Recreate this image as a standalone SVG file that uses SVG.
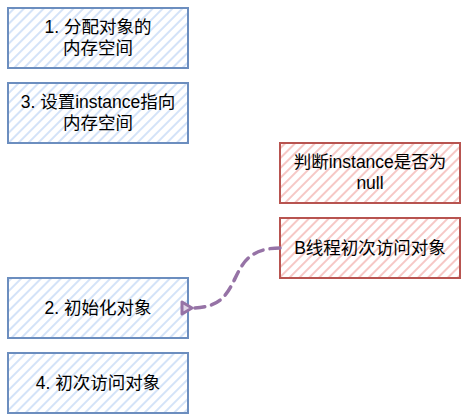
<svg xmlns="http://www.w3.org/2000/svg" width="464" height="420" viewBox="0 0 464 420">
<style>
.t{font-family:"Liberation Sans","Noto Sans CJK SC",sans-serif;font-size:17.5px;fill:#000;text-anchor:middle;dominant-baseline:central}
.b{fill:url(#hb);stroke:#6c8ebf;stroke-width:2}
.r{fill:url(#hr);stroke:#b85450;stroke-width:2}
.c{fill:none;stroke:#9673a6;stroke-width:3.5;stroke-dasharray:10 7;stroke-linecap:round}
</style>
<defs>
<pattern id="hb" patternUnits="userSpaceOnUse" width="7" height="7" patternTransform="rotate(45)">
<rect width="7" height="7" fill="#fff"/>
<line x1="2" y1="0" x2="2" y2="7" stroke="#d4e3f8" stroke-width="2"/>
</pattern>
<pattern id="hr" patternUnits="userSpaceOnUse" width="7" height="7" patternTransform="rotate(45)">
<rect width="7" height="7" fill="#fff"/>
<line x1="2" y1="0" x2="2" y2="7" stroke="#f6c8c6" stroke-width="2"/>
</pattern>
<marker id="ah" markerWidth="14" markerHeight="16" refX="2" refY="8" orient="auto" markerUnits="userSpaceOnUse">
<path d="M12,2 L2,8 L12,14 Z" fill="#e1d5e7" stroke="#9673a6" stroke-width="3" stroke-linejoin="round"/>
</marker>
</defs>
<g id="n1"><rect class="b" x="8" y="8" width="180" height="60"/><text class="t" x="98" y="27">1. 分配对象的</text><text class="t" x="98" y="48">内存空间</text></g>
<g id="n3"><rect class="b" x="8" y="83" width="180" height="60"/><text class="t" x="98" y="102">3. 设置instance指向</text><text class="t" x="98" y="123">内存空间</text></g>
<g id="n2"><rect class="b" x="8" y="278" width="180" height="60"/><text class="t" x="98" y="308">2. 初始化对象</text></g>
<g id="n4"><rect class="b" x="8" y="353" width="180" height="60"/><text class="t" x="98" y="383">4. 初次访问对象</text></g>
<g id="nA"><rect class="r" x="280" y="143" width="180" height="60"/><text class="t" x="370" y="162">判断instance是否为</text><text class="t" x="370" y="183">null</text></g>
<g id="nB"><rect class="r" x="280" y="218" width="180" height="60"/><text class="t" x="370" y="248">B线程初次访问对象</text></g>
<g id="connectors">
<path class="c" d="M280,248 C220,248 250,308 192,308" marker-end="url(#ah)"/>
</g>
</svg>
